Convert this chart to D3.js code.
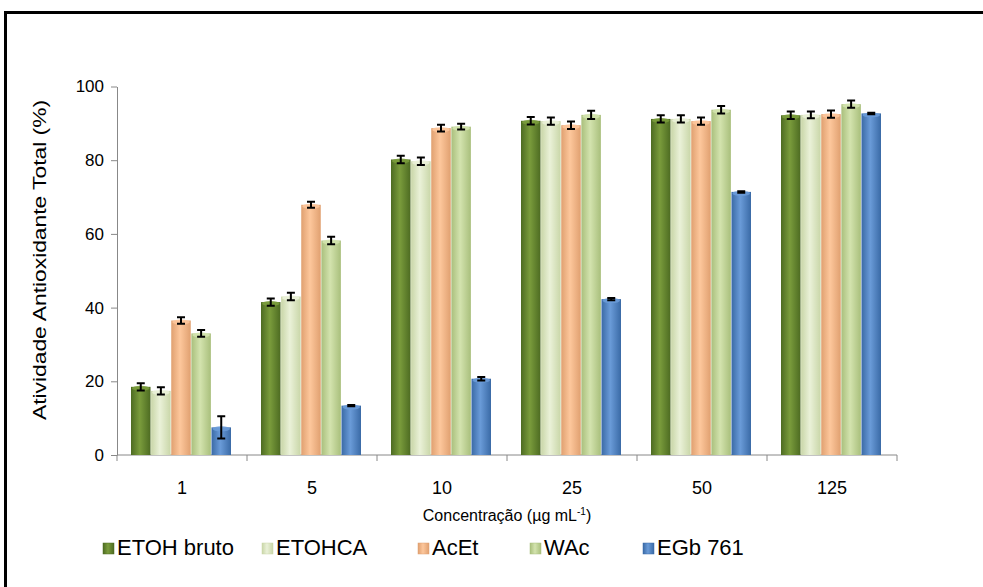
<!DOCTYPE html>
<html>
<head>
<meta charset="utf-8">
<script src="https://cdn.jsdelivr.net/npm/d3@7"></script>
<style>
  body { margin: 0; background: #fff; }
  svg { display: block; font-family: "Liberation Sans", Arial, sans-serif; }
</style>
</head>
<body>
<svg id="chart" width="983" height="587"></svg>
<script>
// concentrations (categories) and extract series
const concentrations = ["1", "5", "10", "25", "50", "125"];
const seriesNames = ["ETOH bruto", "ETOHCA", "AcEt", "WAc", "EGb 761"];

// values per series, one per concentration
const etohBruto = [18.5, 41.5, 80.2, 90.7, 91.2, 92.2];
const etohca    = [17.4, 43.0, 79.7, 90.6, 91.2, 92.3];
const acet      = [36.5, 67.9, 88.7, 89.5, 90.6, 92.5];
const wac       = [33.0, 58.2, 89.1, 92.3, 93.7, 95.2];
const egb761    = [7.5, 13.4, 20.7, 42.3, 71.4, 92.7];

// standard errors
const etohBrutoErr = [1.0, 1.0, 1.0, 1.0, 1.0, 1.0];
const etohcaErr    = [1.0, 1.0, 1.0, 1.0, 1.0, 0.9];
const acetErr      = [0.9, 0.8, 0.9, 1.0, 1.0, 1.0];
const wacErr       = [0.9, 1.0, 0.8, 1.1, 1.0, 1.0];
const egb761Err    = [3.0, 0.2, 0.5, 0.3, 0.2, 0.2];

const yTicks = [0, 20, 40, 60, 80, 100];

const values = [etohBruto, etohca, acet, wac, egb761];
const errors = [etohBrutoErr, etohcaErr, acetErr, wacErr, egb761Err];

// cylinder-like shading: [edge, centre]
const colors = [
  ["#4d6b22", "#7a9c3c"],
  ["#c9d6a8", "#eaf1d8"],
  ["#e0a070", "#fdc79c"],
  ["#a9bf7c", "#d3e3ae"],
  ["#3a6aa6", "#6a9bd8"]
];

const svg = d3.select("#chart");
const margin = { top: 86.5, left: 117, right: 86, bottom: 132 };
const width = 983 - margin.left - margin.right;
const height = 587 - margin.top - margin.bottom;

// outer frame
svg.append("path")
  .attr("d", "M5.5,587 V12.5 H983")
  .attr("fill", "none")
  .attr("stroke", "#000")
  .attr("stroke-width", 3);

const defs = svg.append("defs");
colors.forEach((c, i) => {
  const g = defs.append("linearGradient")
    .attr("id", "grad" + i)
    .attr("x1", "0%").attr("x2", "100%");
  g.append("stop").attr("offset", "0%").attr("stop-color", c[0]);
  g.append("stop").attr("offset", "45%").attr("stop-color", c[1]);
  g.append("stop").attr("offset", "100%").attr("stop-color", c[0]);
});

const g = svg.append("g").attr("transform", `translate(${margin.left},${margin.top})`);

const x0 = d3.scaleBand().domain(concentrations).range([0, width]);
const x1 = d3.scaleBand().domain(d3.range(seriesNames.length))
  .range([14, x0.bandwidth() - 16]).paddingInner(0.03);
const y = d3.scaleLinear().domain([0, 100]).range([height, 0]);

// y axis
const yAxis = g.append("g")
  .call(d3.axisLeft(y).tickValues(yTicks).tickSize(6).tickSizeOuter(0));
yAxis.select(".domain").attr("stroke", "#888");
yAxis.selectAll(".tick line").attr("stroke", "#888");
yAxis.selectAll(".tick text")
  .attr("x", -13)
  .attr("font-size", 17)
  .attr("fill", "#000")
  .attr("font-family", "Liberation Sans, Arial, sans-serif");

// x axis with ticks on category boundaries
const xAxisG = g.append("g").attr("transform", `translate(0,${height})`);
xAxisG.append("line")
  .attr("x1", 0).attr("x2", width)
  .attr("stroke", "#888");
const boundaries = concentrations.map(c => x0(c)).concat([width]);
xAxisG.selectAll(".bt").data(boundaries).enter().append("line")
  .attr("x1", d => d).attr("x2", d => d)
  .attr("y1", 0).attr("y2", 6)
  .attr("stroke", "#888");
xAxisG.selectAll(".lbl").data(concentrations).enter().append("text")
  .attr("x", d => x0(d) + x0.bandwidth() / 2)
  .attr("y", 39)
  .attr("text-anchor", "middle")
  .attr("font-size", 18)
  .text(d => d);

// bars
const groups = g.selectAll(".grp").data(concentrations).enter().append("g")
  .attr("transform", d => `translate(${x0(d)},0)`);

groups.each(function(c, ci) {
  const grp = d3.select(this);
  seriesNames.forEach((s, si) => {
    const v = values[si][ci];
    const bx = x1(si);
    const bw = x1.bandwidth();
    grp.append("rect")
      .attr("x", bx).attr("y", y(v))
      .attr("width", bw).attr("height", height - y(v))
      .attr("fill", `url(#grad${si})`);
    // top cap
    grp.append("ellipse")
      .attr("cx", bx + bw / 2).attr("cy", y(v) + 1.5)
      .attr("rx", bw / 2 - 1).attr("ry", 2.5)
      .attr("fill", colors[si][1])
      .attr("opacity", 0.9);
    // error bar
    const e = errors[si][ci];
    const cx = bx + bw / 2;
    grp.append("path")
      .attr("d", `M${cx - 4},${y(v + e)}H${cx + 4}M${cx},${y(v + e)}V${y(v - e)}M${cx - 4},${y(v - e)}H${cx + 4}`)
      .attr("stroke", "#000")
      .attr("stroke-width", 2)
      .attr("fill", "none");
  });
});

// axis titles (y title is stretched along its length like the source)
svg.append("text")
  .attr("transform", "translate(46,260) rotate(-90) scale(1.2,1)")
  .attr("text-anchor", "middle")
  .attr("font-size", 19)
  .text("Atividade Antioxidante Total  (%)");

const xt = svg.append("text")
  .attr("x", 507).attr("y", 521)
  .attr("text-anchor", "middle")
  .attr("font-size", 16);
xt.append("tspan").text("Concentração (µg  mL");
xt.append("tspan").attr("font-size", 10).attr("dy", -6).text("-1");
xt.append("tspan").attr("dy", 6).text(")");

// legend
const legendX = [103, 262, 418, 530, 643];
const legend = svg.selectAll(".leg").data(seriesNames).enter().append("g")
  .attr("transform", (d, i) => `translate(${legendX[i]},543)`);
legend.append("rect")
  .attr("width", 11).attr("height", 11)
  .attr("fill", (d, i) => `url(#grad${i})`)
  .attr("stroke", (d, i) => colors[i][0])
  .attr("stroke-width", 0.5);
legend.append("text")
  .attr("x", 14).attr("y", 12)
  .attr("font-size", 22)
  .text(d => d);
</script>
</body>
</html>
